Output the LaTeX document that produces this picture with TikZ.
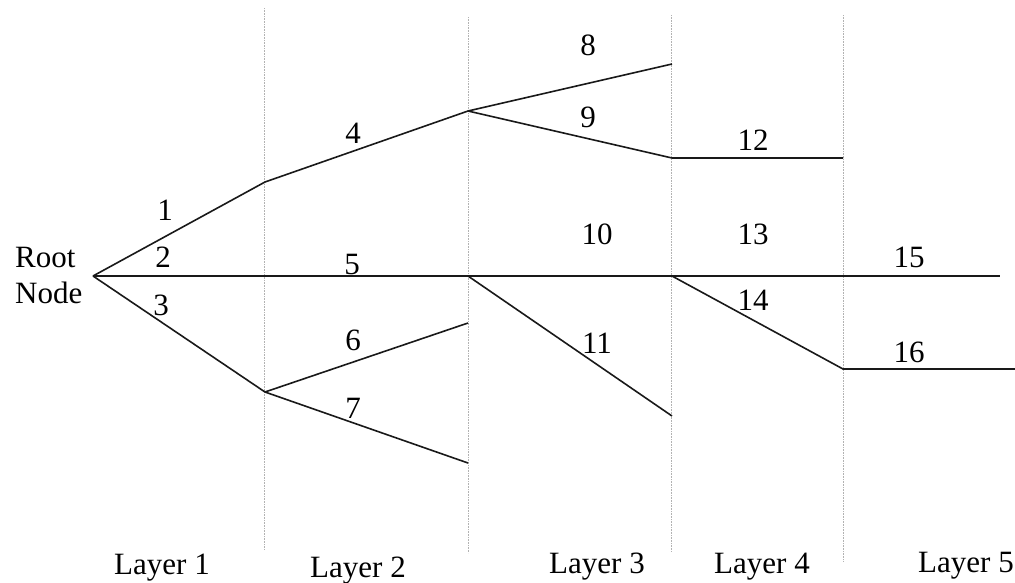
\documentclass[tikz,border=0pt]{standalone}
\usepackage{fontspec}
\setmainfont{Liberation Serif}
\usetikzlibrary{calc}

\begin{document}
\begin{tikzpicture}[x=1pt,y=-1pt,
  branch/.style={line width=1.6pt,black!90},
  layerline/.style={gray!60,line width=.8pt,dash pattern=on .8pt off .8pt},
  lbl/.style={anchor=base,inner sep=0pt,font=\fontsize{31}{36}\selectfont}]
 \useasboundingbox (0,0) rectangle (1015,582);
 \foreach \x/\ya/\yb in {264/8/550,468/17/553,671/15/552,843/15/562}
  \draw[layerline] (\x,\ya)--(\x,\yb);
 \coordinate (r) at (93,276);
 \coordinate (a1) at (265,182); \coordinate (a3) at (265,392);
 \coordinate (b4) at (468,111); \coordinate (b5) at (468,276);
 \coordinate (b6) at (468,323); \coordinate (b7) at (468,463);
 \coordinate (c8) at (672,64); \coordinate (c9) at (672,158);
 \coordinate (c10) at (672,276); \coordinate (c11) at (672,416);
 \coordinate (d12) at (843,158); \coordinate (d13) at (843,276);
 \coordinate (d14) at (843,369);
 \coordinate (e15) at (1000,276); \coordinate (e16) at (1015,369);
 \draw[branch] (r)--(a1)--(b4)--(c8) (b4)--(c9)--(d12);
 \draw[branch] (r)--(b5)--(c10)--(d13)--(e15);
 \draw[branch] (r)--(a3)--(b6) (a3)--(b7);
 \draw[branch] (b5)--(c11) (c10)--(d14)--(e16);
 \node[lbl,anchor=north west,align=left] (root) at (15,247) {Root\\Node};
 \foreach \t/\x/\y in {1/165/220,2/163/267,3/161/315,4/353/143,5/352/274,
   6/353/350,7/353/418,8/588/55,9/588/127,10/597/244,11/597/353,
   12/753/150,13/753/244,14/753/310,15/909/267,16/909/362}
  \node[lbl] (t\t) at (\x,\y) {\t};
 \foreach \i/\x/\y in {1/162/574,2/358/577,3/597/573,4/762/573,5/966/572}
  \node[lbl] (layer\i) at (\x,\y) {Layer \i};
\end{tikzpicture}
\end{document}
